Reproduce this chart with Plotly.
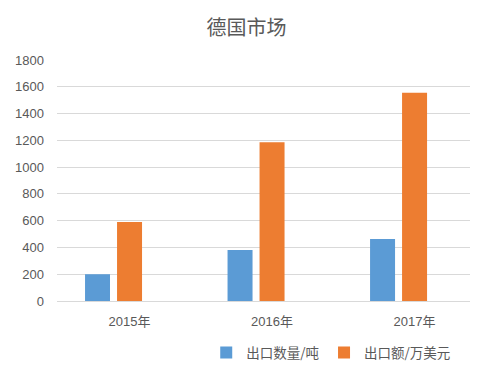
import plotly.graph_objects as go

categories = ["2015年", "2016年", "2017年"]
qty_tons = [200, 380, 463]
value_10k_usd = [590, 1185, 1555]
series_names = ["出口数量/吨", "出口额/万美元"]
y_ticks = [0, 200, 400, 600, 800, 1000, 1200, 1400, 1600, 1800]

blue = "#5B9BD5"
orange = "#ED7D31"
txt = "#595959"

fig = go.Figure()
fig.add_trace(go.Bar(x=categories, y=qty_tons, name=series_names[0],
                     marker=dict(color=blue, line=dict(width=0)),
                     width=0.1754, offset=-0.3123))
fig.add_trace(go.Bar(x=categories, y=value_10k_usd, name=series_names[1],
                     marker=dict(color=orange, line=dict(width=0)),
                     width=0.1754, offset=-0.0877))

# page body has an 8px margin, so the figure is 492x360 with offset margins
fig.update_layout(
    width=492, height=360,
    margin=dict(l=49, r=30, t=52, b=67, autoexpand=False),
    paper_bgcolor="white", plot_bgcolor="white",
    barmode="overlay",
    title=dict(text="德国市场", x=(246.5 - 8) / 492, xanchor="center", y=1 - 20 / 360, yanchor="middle",
               font=dict(family="Noto Sans CJK SC", size=20, color=txt)),
    font=dict(family="Liberation Sans, Noto Sans CJK SC", size=13, color=txt),
    xaxis=dict(type="category", range=[-0.509, 2.389], showgrid=False, automargin=False,
               showline=False, ticks="", zeroline=False, ticklabelstandoff=11,
               tickfont=dict(family="Liberation Sans, Noto Sans CJK SC", size=13, color=txt)),
    yaxis=dict(range=[0, 1800], tickvals=y_ticks, showgrid=True, gridcolor="#D9D9D9",
               gridwidth=1, zeroline=True, zerolinecolor="#D9D9D9", zerolinewidth=1,
               showline=False, ticks="", ticklabelstandoff=12, automargin=False,
               tickfont=dict(family="Liberation Sans", size=13, color=txt)),
    legend=dict(orientation="h", x=0.664, xanchor="center", y=-0.215, yanchor="middle",
                font=dict(family="Noto Sans CJK SC", size=13.5, color=txt),
                itemwidth=30, tracegroupgap=0),
    showlegend=True,
)
fig.add_shape(type="line", xref="paper", yref="paper", layer="above",
              x0=(486 - 49) / 413, x1=(486 - 49) / 413, y0=-67 / 241, y1=(241 + 52) / 241,
              line=dict(color="#A6A6A6", width=1.5))

fig.write_html("out.html")
